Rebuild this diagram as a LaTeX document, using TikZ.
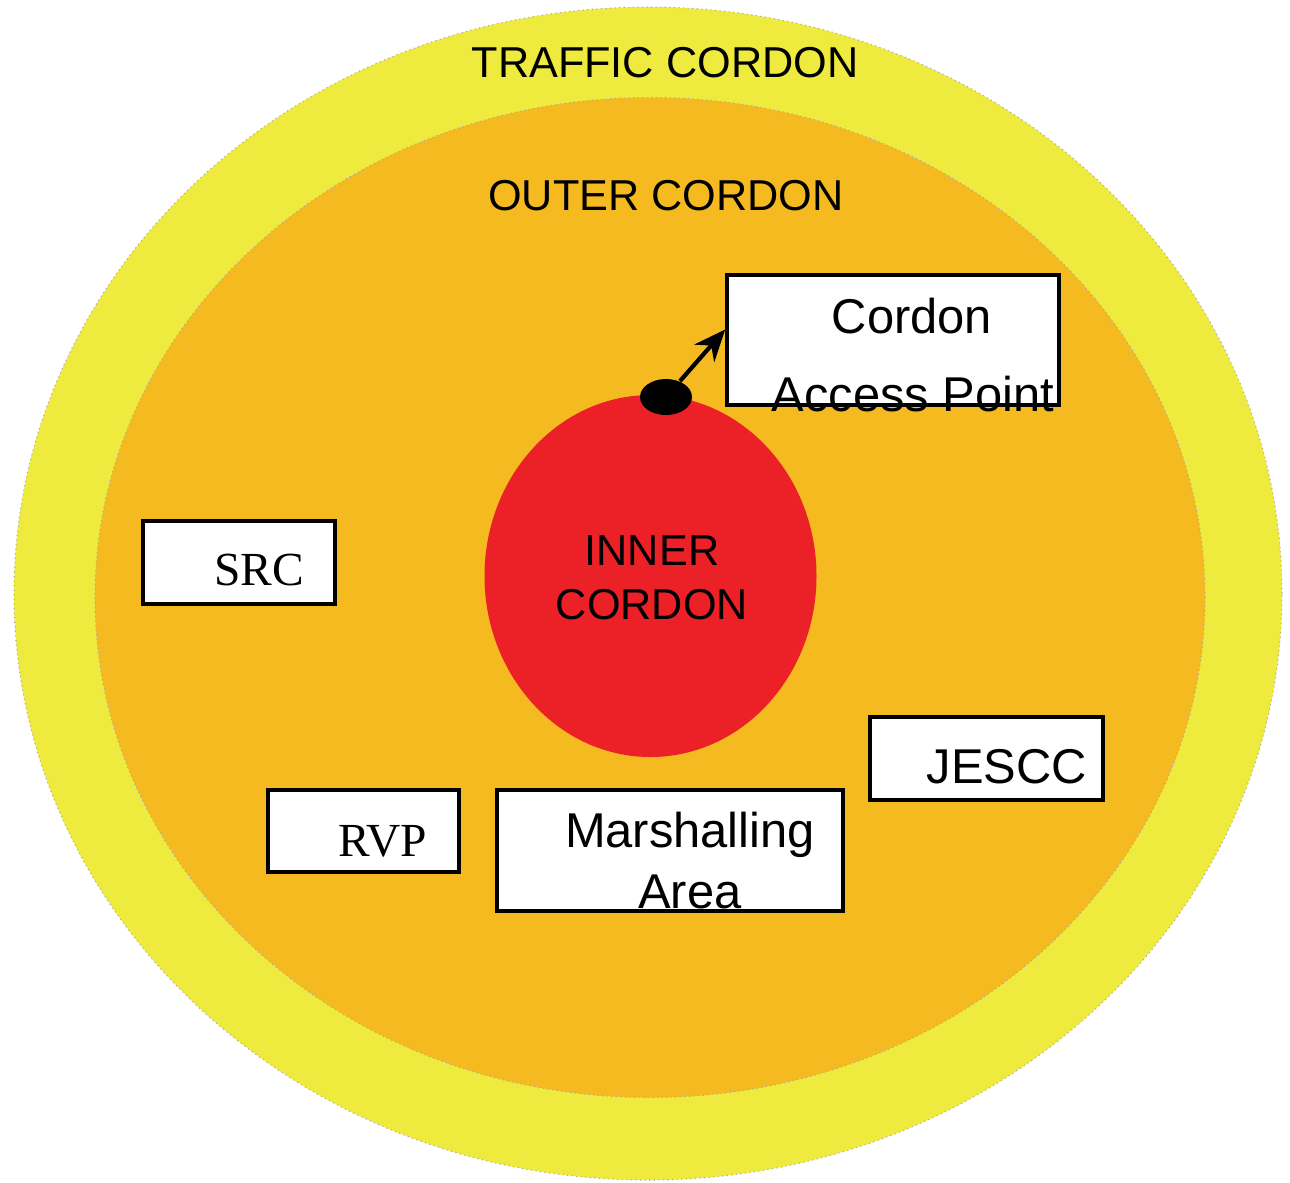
\documentclass[tikz,border=0pt]{standalone}
\usepackage{fontspec}
\setmainfont{Liberation Sans}
\newfontfamily\timesfont{Liberation Serif}
\usetikzlibrary{arrows.meta, positioning, shapes.geometric}
\definecolor{trafficyel}{RGB}{238, 234, 62}
\definecolor{outerorg}{RGB}{244, 186, 32}
\definecolor{innerred}{RGB}{236, 33, 39}

\begin{document}
\begin{tikzpicture}[
  box/.style={draw, line width=1pt, fill=white, inner sep=0pt},
  zonelabel/.style={anchor=base, font=\fontsize{12.3}{14}\selectfont},
  boxlabel/.style={anchor=base, font=\fontsize{13.9}{16}\selectfont},
  seriflabel/.style={anchor=base, font=\timesfont\fontsize{13.5}{15}\selectfont},
  rim/.style={draw=black!35, line width=0.3pt, densely dotted}
]
  \useasboundingbox (0,0) rectangle (12.9,-11.82);
  % Cordons
  \fill[trafficyel, rim] (6.48,-5.935) ellipse [x radius=6.34, y radius=5.865];
  \fill[outerorg, rim] (6.50,-5.975) ellipse [x radius=5.55, y radius=5.0];
  \fill[innerred] (6.505,-5.76) ellipse [x radius=1.66, y radius=1.81];
  \node[zonelabel] (traffic) at (6.65,-0.77) {TRAFFIC CORDON};
  \node[zonelabel] (outer) at (6.66,-2.10) {OUTER CORDON};
  \node[zonelabel] (inner1) at (6.52,-5.65) {INNER};
  \node[zonelabel] (inner2) at (6.52,-6.19) {CORDON};
  % Access point
  \node[ellipse, fill=black, minimum width=0.52cm, minimum height=0.36cm, inner sep=0pt] (cap) at (6.66,-3.97) {};
  \node[box, minimum width=3.32cm, minimum height=1.30cm] (access) at (8.93,-3.40) {};
  \node[boxlabel] (access1) at (9.12,-3.33) {Cordon};
  \node[boxlabel] (access2) at (9.13,-4.11) {Access Point};
  \draw[-{Stealth[length=9pt, width=7.5pt]}, line width=1.2pt] (cap) -- ([yshift=3pt]access.west);
  % Boxes
  \node[box, minimum width=1.92cm, minimum height=0.83cm] (src) at (2.39,-5.625) {};
  \node[seriflabel] (srctext) at (2.59,-5.85) {SRC};
  \node[box, minimum width=1.91cm, minimum height=0.82cm] (rvp) at (3.635,-8.31) {};
  \node[seriflabel] (rvptext) at (3.83,-8.56) {RVP};
  \node[box, minimum width=3.46cm, minimum height=1.21cm] (marsh) at (6.70,-8.505) {};
  \node[boxlabel] (marsh1) at (6.90,-8.47) {Marshalling};
  \node[boxlabel] (marsh2) at (6.90,-9.08) {Area};
  \node[box, minimum width=2.33cm, minimum height=0.83cm] (jescc) at (9.865,-7.585) {};
  \node[boxlabel] (jescctext) at (10.07,-7.83) {JESCC};
\end{tikzpicture}
\end{document}
